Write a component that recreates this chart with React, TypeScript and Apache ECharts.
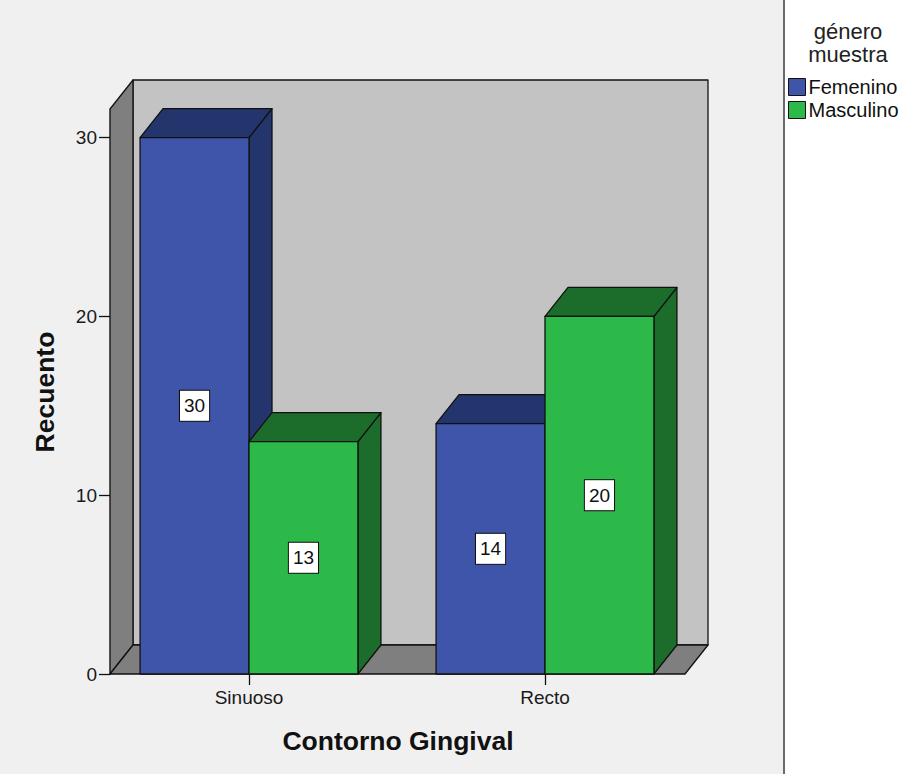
import React, { useEffect, useRef } from "react";
import * as echarts from "echarts";

// Counts by gingival contour, split by sample gender
const categories = ["Sinuoso", "Recto"];
const femenino = [30, 14];
const masculino = [13, 20];
const yTicks = [0, 10, 20, 30];
const yMax = 31.6;
const seriesNames = ["Femenino", "Masculino"];
const legendTitle = "género\nmuestra";
const xTitle = "Contorno Gingival";
const yTitle = "Recuento";

// 3D look: pixel offset of the back plane from the front plane
const DX = 23;
const DY = -29;
const BAR_RATIO = 0.368;
const FONT = "'Liberation Sans', Arial, sans-serif";
const EDGE = { stroke: "#111", lineWidth: 1.3, lineJoin: "round" as const };

const palette = {
  Femenino: { front: "#3F55A9", dark: "#24346C" },
  Masculino: { front: "#2DB84A", dark: "#1C6D2B" },
};

function makeBarRenderer(side: -1 | 1, front: string, dark: string) {
  return (_params: any, api: any) => {
    const cat = api.value(0);
    const val = api.value(1);
    const top = api.coord([cat, val]);
    const base = api.coord([cat, 0]);
    const band = api.size([1, 0])[0];
    const w = band * BAR_RATIO;
    const x0 = side < 0 ? top[0] - w : top[0];
    const x1 = x0 + w;
    const yt = top[1];
    const yb = base[1];
    return {
      type: "group",
      children: [
        {
          type: "polygon",
          shape: { points: [[x1, yt], [x1 + DX, yt + DY], [x1 + DX, yb + DY], [x1, yb]] },
          style: { fill: dark, ...EDGE },
        },
        {
          type: "polygon",
          shape: { points: [[x0, yt], [x0 + DX, yt + DY], [x1 + DX, yt + DY], [x1, yt]] },
          style: { fill: dark, ...EDGE },
        },
        {
          type: "rect",
          shape: { x: x0, y: yt, width: w, height: yb - yt },
          style: { fill: front, ...EDGE },
        },
        {
          type: "text",
          x: (x0 + x1) / 2,
          y: (yt + yb) / 2,
          style: {
            text: String(val),
            align: "center",
            verticalAlign: "middle",
            fill: "#111",
            fontSize: 19,
            fontFamily: FONT,
            backgroundColor: "#fff",
            borderColor: "#111",
            borderWidth: 1,
            padding: [6, 4, 5, 4],
          },
        },
      ],
    };
  };
}

// Back wall, left wall and floor of the 3D box
function renderWalls(_params: any, api: any) {
  const band = api.size([1, 0])[0];
  const first = api.coord([0, 0]);
  const last = api.coord([categories.length - 1, 0]);
  const yTop = api.coord([0, yMax])[1];
  const y0 = first[1];
  const left = first[0] - band / 2 + 9;
  const right = last[0] + band / 2 - 8;
  return {
    type: "group",
    children: [
      {
        type: "rect",
        shape: { x: left + DX, y: yTop + DY, width: right - left, height: y0 - yTop },
        style: { fill: "#C3C3C3", ...EDGE },
      },
      {
        type: "polygon",
        shape: { points: [[left, yTop], [left + DX, yTop + DY], [left + DX, y0 + DY], [left, y0]] },
        style: { fill: "#7F7F7F", ...EDGE },
      },
      {
        type: "polygon",
        shape: { points: [[left, y0], [left + DX, y0 + DY], [right + DX, y0 + DY], [right, y0]] },
        style: { fill: "#7F7F7F", ...EDGE },
      },
    ],
  };
}

export default function App() {
  const ref = useRef<HTMLDivElement>(null);

  useEffect(() => {
    document.body.style.margin = "0";
    const chart = echarts.init(ref.current!, undefined, { renderer: "svg" });
    chart.setOption({
      animation: false,
      backgroundColor: "#F0F0F0",
      grid: { left: 101, top: 109, width: 592, height: 565 },
      xAxis: {
        type: "category",
        data: categories,
        axisLine: { show: false },
        axisTick: { show: true, alignWithLabel: true, length: 11, lineStyle: { color: "#111", width: 1.3 } },
        axisLabel: { fontSize: 19, fontFamily: FONT, color: "#1a1a1a", margin: 14 },
        splitLine: { show: false },
      },
      yAxis: {
        type: "value",
        min: 0,
        max: yMax,
        interval: 10,
        offset: -9,
        axisLine: { show: true, lineStyle: { color: "#111", width: 1.3 } },
        axisTick: { show: true, length: 11, customValues: yTicks, lineStyle: { color: "#111", width: 1.3 } },
        axisLabel: { fontSize: 19, fontFamily: FONT, color: "#1a1a1a", margin: 13, customValues: yTicks },
        splitLine: { show: false },
      },
      legend: {
        data: seriesNames,
        orient: "vertical",
        left: 788,
        top: 77,
        itemWidth: 17,
        itemHeight: 17,
        itemGap: 3,
        padding: 0,
        icon: "rect",
        itemStyle: { borderColor: "#111", borderWidth: 1 },
        textStyle: { fontSize: 20, fontFamily: FONT, color: "#111", padding: [0, 0, 0, -2] },
      },
      graphic: [
        { type: "rect", left: 785, top: 0, shape: { width: 125, height: 774 }, style: { fill: "#FFFFFF" }, silent: true },
        { type: "rect", left: 783, top: 0, shape: { width: 2, height: 774 }, style: { fill: "#6A6A6A" }, silent: true },
        {
          type: "text",
          x: 848,
          y: 20,
          style: {
            text: legendTitle,
            align: "center",
            fontSize: 22,
            lineHeight: 23,
            fontFamily: FONT,
            fill: "#222",
          },
        },
        {
          type: "text",
          x: 398,
          y: 741,
          style: {
            text: xTitle,
            align: "center",
            verticalAlign: "middle",
            fontSize: 26.5,
            fontWeight: "bold",
            fontFamily: FONT,
            fill: "#111",
          },
        },
        {
          type: "text",
          x: 45,
          y: 392,
          rotation: Math.PI / 2,
          style: {
            text: yTitle,
            align: "center",
            verticalAlign: "middle",
            fontSize: 26.5,
            fontWeight: "bold",
            fontFamily: FONT,
            fill: "#111",
          },
        },
      ],
      series: [
        {
          type: "custom",
          name: "walls",
          data: [[0, 0]],
          renderItem: renderWalls,
          silent: true,
          z: 1,
        },
        {
          type: "custom",
          name: seriesNames[0],
          data: femenino.map((v, i) => [i, v]),
          itemStyle: { color: palette.Femenino.front },
          renderItem: makeBarRenderer(-1, palette.Femenino.front, palette.Femenino.dark),
          z: 2,
        },
        {
          type: "custom",
          name: seriesNames[1],
          data: masculino.map((v, i) => [i, v]),
          itemStyle: { color: palette.Masculino.front },
          renderItem: makeBarRenderer(1, palette.Masculino.front, palette.Masculino.dark),
          z: 3,
        },
      ],
    });
    return () => chart.dispose();
  }, []);

  return <div ref={ref} style={{ width: 910, height: 774 }} />;
}
